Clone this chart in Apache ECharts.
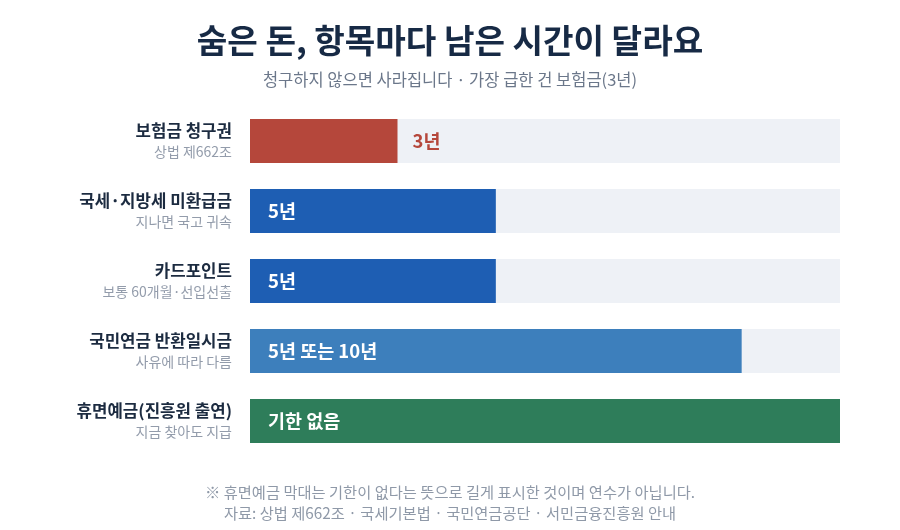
<!DOCTYPE html>
<html>
<head>
<meta charset="utf-8">
<script src="https://cdn.jsdelivr.net/npm/echarts@6/dist/echarts.min.js"></script>
<style>
  html, body { margin: 0; padding: 0; background: #fff; }
  #main { width: 900px; height: 530px; }
</style>
</head>
<body>
<div id="main"></div>
<script>
// 항목 / 근거 / 남은 기간(년) — 휴면예금은 기한 없음이라 축 끝까지 그림
var names = ['보험금 청구권', '국세·지방세 미환급금', '카드포인트', '국민연금 반환일시금', '휴면예금(진흥원 출연)'];
var notes = ['상법 제662조', '지나면 국고 귀속', '보통 60개월·선입선출', '사유에 따라 다름', '지금 찾아도 지급'];
var years = [3, 5, 5, 10, 12];
var valueTexts = ['3년', '5년', '5년', '5년 또는 10년', '기한 없음'];
var barColors = ['#b5473b', '#1e5eb3', '#1e5eb3', '#3d7fbc', '#2e7d5a'];
var axisMax = 12;

var FONT = "'Noto Sans CJK KR', 'Noto Sans', sans-serif";
var chart = echarts.init(document.getElementById('main'));

var data = years.map(function (v, i) {
  var outside = i === 0;
  return {
    value: v,
    itemStyle: { color: barColors[i] },
    label: {
      show: true,
      position: outside ? 'right' : 'insideLeft',
      distance: outside ? 15 : 18,
      color: outside ? barColors[i] : '#ffffff',
      formatter: valueTexts[i]
    }
  };
});

var footStyle = { fontFamily: FONT, fontSize: 15.3, fontWeight: 'normal', color: '#8f99a8' };

var option = {
  animation: false,
  textStyle: { fontFamily: FONT },
  title: [
    {
      text: '숨은 돈, 항목마다 남은 시간이 달라요',
      left: 'center', top: 19,
      textStyle: { fontFamily: FONT, fontSize: 33.2, fontWeight: 'bold', color: '#172a45' }
    },
    {
      text: '청구하지 않으면 사라집니다 · 가장 급한 건 보험금(3년)',
      left: 'center', top: 66,
      textStyle: { fontFamily: FONT, fontSize: 16.5, fontWeight: 'normal', color: '#6b778a' }
    },
    {
      text: '※ 휴면예금 막대는 기한이 없다는 뜻으로 길게 표시한 것이며 연수가 아닙니다.',
      left: 'center', top: 480,
      textStyle: footStyle
    },
    {
      text: '자료: 상법 제662조 · 국세기본법 · 국민연금공단 · 서민금융진흥원 안내',
      left: 'center', top: 501,
      textStyle: footStyle
    }
  ],
  grid: { left: 250, right: 60, top: 106, height: 350, containLabel: false },
  xAxis: {
    type: 'value', min: 0, max: axisMax,
    show: false
  },
  yAxis: {
    type: 'category',
    inverse: true,
    data: names,
    axisLine: { show: false },
    axisTick: { show: false },
    axisLabel: {
      margin: 18,
      formatter: function (val, idx) {
        return '{n|' + val + '}\n{s|' + notes[idx] + '}';
      },
      rich: {
        n: { fontFamily: FONT, fontSize: 16.8, fontWeight: 'bold', color: '#1c2b40', lineHeight: 22, align: 'right' },
        s: { fontFamily: FONT, fontSize: 14, color: '#939cab', lineHeight: 20, align: 'right' }
      }
    }
  },
  series: [{
    type: 'bar',
    barWidth: 44,
    data: data,
    showBackground: true,
    backgroundStyle: { color: '#eef1f6' },
    label: {
      fontFamily: FONT, fontSize: 18.5, fontWeight: 'bold'
    }
  }]
};

chart.setOption(option);
</script>
</body>
</html>
